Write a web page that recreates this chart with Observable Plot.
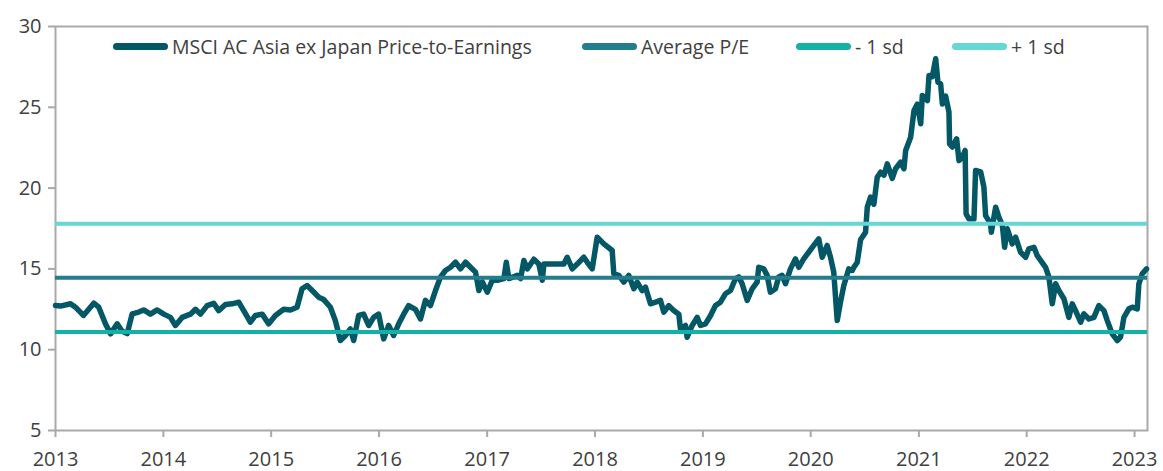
<!DOCTYPE html>
<html>
<head>
<meta charset="utf-8">
<script src="https://cdn.jsdelivr.net/npm/d3@7"></script>
<script src="https://cdn.jsdelivr.net/npm/@observablehq/plot@0.6"></script>
<style>
  html, body { margin: 0; padding: 0; background: #fff; }
  #wrap { position: relative; width: 1163px; height: 471px; font-family: "Open Sans", sans-serif; }
  .leg { position: absolute; top: 33px; display: flex; align-items: center; font-size: 19.5px; color: #404040; white-space: nowrap; }
  .sw { display: inline-block; width: 55px; height: 7px; border-radius: 3.5px; margin-right: 4px; }
</style>
</head>
<body>
<div id="wrap"></div>
<script>
// decimal-year positions of the weekly P/E observations
const years = [
  2013.000,2013.046,2013.139,2013.185,2013.259,2013.355,2013.401,2013.463,2013.510,2013.572,
  2013.618,2013.665,2013.711,2013.772,2013.818,2013.880,2013.943,2014.004,2014.066,2014.112,
  2014.174,2014.251,2014.298,2014.344,2014.406,2014.467,2014.513,2014.576,2014.638,2014.699,
  2014.745,2014.807,2014.854,2014.916,2014.977,2015.039,2015.116,2015.178,2015.240,2015.286,
  2015.333,2015.394,2015.440,2015.487,2015.549,2015.595,2015.641,2015.688,2015.734,2015.765,
  2015.811,2015.857,2015.904,2015.950,2015.996,2016.043,2016.089,2016.135,2016.182,2016.228,
  2016.274,2016.336,2016.383,2016.429,2016.475,2016.522,2016.568,2016.614,2016.661,2016.707,
  2016.753,2016.800,2016.846,2016.892,2016.923,2016.955,2017.001,2017.047,2017.094,2017.155,
  2017.177,2017.201,2017.279,2017.310,2017.340,2017.372,2017.433,2017.479,2017.511,2017.526,
  2017.618,2017.711,2017.742,2017.789,2017.835,2017.896,2017.928,2017.974,2018.020,2018.082,
  2018.159,2018.174,2018.221,2018.267,2018.313,2018.360,2018.391,2018.437,2018.468,2018.514,
  2018.561,2018.607,2018.638,2018.684,2018.730,2018.777,2018.792,2018.839,2018.854,2018.901,
  2018.947,2018.978,2019.024,2019.070,2019.117,2019.163,2019.209,2019.256,2019.302,2019.333,
  2019.364,2019.411,2019.457,2019.503,2019.518,2019.564,2019.596,2019.626,2019.673,2019.703,
  2019.735,2019.766,2019.812,2019.858,2019.889,2019.935,2019.981,2020.028,2020.074,2020.106,
  2020.152,2020.183,2020.213,2020.245,2020.275,2020.306,2020.352,2020.384,2020.399,2020.430,
  2020.461,2020.507,2020.523,2020.553,2020.584,2020.615,2020.646,2020.677,2020.708,2020.754,
  2020.785,2020.831,2020.862,2020.878,2020.924,2020.955,2020.986,2021.017,2021.032,2021.079,
  2021.094,2021.125,2021.156,2021.177,2021.202,2021.218,2021.248,2021.279,2021.285,2021.310,
  2021.350,2021.372,2021.403,2021.429,2021.438,2021.464,2021.511,2021.526,2021.573,2021.603,
  2021.619,2021.665,2021.672,2021.712,2021.742,2021.774,2021.795,2021.820,2021.866,2021.897,
  2021.943,2021.990,2022.020,2022.067,2022.098,2022.129,2022.175,2022.206,2022.237,2022.268,
  2022.298,2022.345,2022.391,2022.422,2022.453,2022.500,2022.530,2022.577,2022.623,2022.669,
  2022.716,2022.747,2022.793,2022.840,2022.870,2022.901,2022.947,2022.979,2023.025,2023.040,
  2023.071,2023.111
];
// MSCI AC Asia ex Japan Price-to-Earnings
const peValues = [
  12.73,12.70,12.84,12.63,12.12,12.88,12.63,11.60,10.98,11.60,
  11.14,11.00,12.22,12.33,12.46,12.20,12.46,12.20,12.00,11.50,
  12.00,12.20,12.50,12.20,12.73,12.87,12.42,12.80,12.84,12.94,
  12.42,11.70,12.12,12.20,11.60,12.12,12.50,12.46,12.63,13.77,
  13.97,13.57,13.25,13.10,12.63,11.80,10.57,10.88,11.29,10.57,
  12.12,12.20,11.50,12.00,12.20,10.67,11.50,10.88,11.60,12.20,
  12.73,12.50,11.90,13.05,12.73,13.66,14.49,14.90,15.10,15.41,
  15.00,15.41,15.10,14.80,13.66,14.20,13.56,14.30,14.30,14.40,
  15.41,14.40,14.60,14.40,15.52,15.00,15.60,15.30,14.30,15.30,
  15.30,15.30,15.72,15.00,15.30,15.72,15.41,15.00,16.96,16.55,
  16.14,14.70,14.60,14.18,14.60,13.77,14.18,13.66,13.87,12.84,
  12.94,13.05,12.32,12.73,12.42,12.20,11.29,11.50,10.77,11.50,
  12.00,11.50,11.60,12.10,12.73,12.94,13.46,13.66,14.39,14.50,
  14.08,13.05,13.77,14.18,15.10,15.00,14.60,13.56,13.77,14.50,
  14.60,14.08,15.00,15.62,15.10,15.62,16.03,16.45,16.86,15.72,
  16.45,15.72,14.80,11.80,12.94,13.97,15.00,14.90,15.10,15.40,
  16.80,17.27,18.82,19.44,19.00,20.67,20.98,20.80,21.50,20.60,
  21.20,21.60,21.20,22.33,23.15,24.80,25.20,23.98,25.73,25.42,
  26.97,26.90,28.00,26.55,26.45,25.20,25.70,24.70,22.74,22.54,
  23.05,21.70,21.90,22.33,18.41,18.10,18.10,21.09,21.00,20.06,
  18.30,17.79,17.27,18.82,18.20,17.70,16.34,17.48,16.55,16.96,
  16.03,15.72,16.24,16.34,15.82,15.52,15.10,14.49,12.84,14.08,
  13.66,13.15,12.00,12.84,12.42,11.70,12.22,11.90,12.00,12.73,
  12.42,11.80,10.98,10.57,10.78,12.00,12.53,12.63,12.53,14.08,
  14.70,15.00
];
const averagePE = 14.45;
const minus1sd = 11.10;
const plus1sd = 17.80;
const yTicks = [5, 10, 15, 20, 25, 30];
const xTickYears = [2013, 2014, 2015, 2016, 2017, 2018, 2019, 2020, 2021, 2022, 2023];
const xDomainYears = [2013.0, 2023.12];
const seriesNames = ["MSCI AC Asia ex Japan Price-to-Earnings", "Average P/E", "- 1 sd", "+ 1 sd"];
const seriesColors = ["#045866", "#237d8c", "#14b2a6", "#66d6d7"];

function yearToDate(v) {
  const y = Math.floor(v);
  const a = Date.UTC(y, 0, 1), b = Date.UTC(y + 1, 0, 1);
  return new Date(a + (v - y) * (b - a));
}
const data = years.map((t, i) => ({date: yearToDate(t), pe: peValues[i]}));
const xTicks = xTickYears.map(y => new Date(Date.UTC(y, 0, 1)));

const chart = Plot.plot({
  width: 1163,
  height: 471,
  marginLeft: 55,
  marginRight: 16,
  marginTop: 26,
  marginBottom: 41,
  style: {fontFamily: "'Open Sans', sans-serif", fontSize: "20px", color: "#404040", background: "#fff", overflow: "visible"},
  x: {type: "utc", domain: xDomainYears.map(yearToDate)},
  y: {domain: [5, 30]},
  marks: [
    Plot.frame({stroke: "#a9a9a9", strokeWidth: 2}),
    Plot.axisY({ticks: yTicks, tickSize: 7, tickPadding: 7, label: null, tickFormat: d => d, stroke: "#a9a9a9", strokeWidth: 2, fill: "#404040", fontSize: 20}),
    Plot.axisX({ticks: xTicks, tickSize: 7, tickPadding: 14, label: null, tickFormat: d3.utcFormat("%Y"), stroke: "#a9a9a9", strokeWidth: 2, fill: "#404040", fontSize: 20}),
    Plot.line(data, {x: "date", y: "pe", stroke: seriesColors[0], strokeWidth: 5.5, strokeLinejoin: "round", strokeLinecap: "round"}),
    Plot.ruleY([minus1sd], {stroke: seriesColors[2], strokeWidth: 4}),
    Plot.ruleY([plus1sd], {stroke: seriesColors[3], strokeWidth: 4}),
    Plot.ruleY([averagePE], {stroke: seriesColors[1], strokeWidth: 4})
  ]
});
const wrap = document.getElementById("wrap");
wrap.appendChild(chart);

const legendLeft = [113, 582, 796, 952];
seriesNames.forEach((name, i) => {
  const item = document.createElement("div");
  item.className = "leg";
  item.style.left = legendLeft[i] + "px";
  const sw = document.createElement("span");
  sw.className = "sw";
  sw.style.background = seriesColors[i];
  item.appendChild(sw);
  item.appendChild(document.createTextNode(name));
  wrap.appendChild(item);
});
</script>
</body>
</html>
